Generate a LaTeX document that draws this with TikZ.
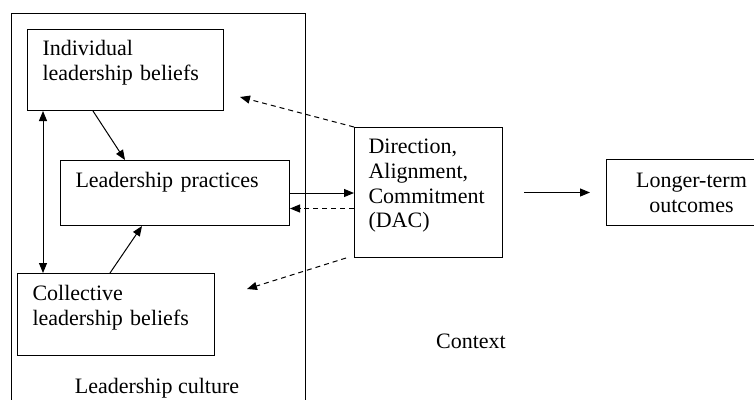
\documentclass[tikz,border=0pt]{standalone}
\usepackage{fontspec}
\setmainfont{Liberation Serif}
\usetikzlibrary{arrows.meta}

\begin{document}
\begin{tikzpicture}[x=1pt, y=-1pt,
    font=\fontsize{22}{24.8}\selectfont,
    box/.style={draw, line width=1pt, rectangle, align=left, inner xsep=15pt,
        text height=15pt},
    arr/.style={line width=1pt, -{Triangle[length=10pt,width=8pt]}},
    darr/.style={arr, dash pattern=on 5pt off 4pt}]
            \useasboundingbox (0,0) rectangle (754,399);

            % Leadership culture frame
            \draw[line width=1pt] (11,420) -- (11,13) -- (305,13) -- (305,420);
            \node[anchor=base] (cult) at (157,393) {Leadership culture};
            \node[anchor=base] (ctx) at (471,348) {Context};

            % Boxes
            \node[box, anchor=north west, minimum width=196pt, minimum height=81pt,
                text width=166pt, text depth=44pt] (ind) at (27,29)
                {Individual\\leadership beliefs};
            \node[box, anchor=north west, minimum width=229pt, minimum height=65pt,
                text width=199pt, text depth=26pt] (prac) at (60,160)
                {Leadership practices};
            \node[box, anchor=north west, minimum width=197pt, minimum height=82pt,
                text width=167pt, text depth=43pt] (coll) at (17,273)
                {Collective\\leadership beliefs};
            \node[box, anchor=north west, minimum width=148pt, minimum height=130pt,
                inner xsep=14pt, text width=120pt, text depth=93pt] (dac) at (354,127)
                {Direction,\\Alignment,\\Commitment\\(DAC)};
            \node[box, anchor=north west, minimum width=170pt, minimum height=66pt,
                align=center, text width=140pt, text depth=25pt] (lt) at (606,159)
                {Longer-term\\outcomes};

            % Free ends of the dashed feedback arrows
            \coordinate (fbi) at (240,97);
            \coordinate (fbc) at (247,289);

            % Edges
            \draw[arr, {Triangle[length=10pt,width=8pt]}-{Triangle[length=10pt,width=8pt]}]
                ([xshift=16pt]ind.south west) -- ([xshift=16pt]ind.south west |- coll.north);
            \draw[arr] ([xshift=66pt]ind.south west) -- ([xshift=65pt]prac.north west);
            \draw[arr] ([xshift=93pt]coll.north west) -- ([xshift=82pt]prac.south west);
            \draw[arr] (prac.east) -- (prac.east -| dac.west);
            \draw[darr] ([yshift=-16pt]dac.west) -- ([yshift=-16pt]dac.west -| prac.east);
            \draw[darr] (dac.north west) -- (fbi);
            \draw[darr] ([xshift=-8pt]dac.south west) -- (fbc);
            \draw[arr] ([xshift=21pt]dac.east) -- ([xshift=-16pt]lt.west);
        \end{tikzpicture}
\end{document}
